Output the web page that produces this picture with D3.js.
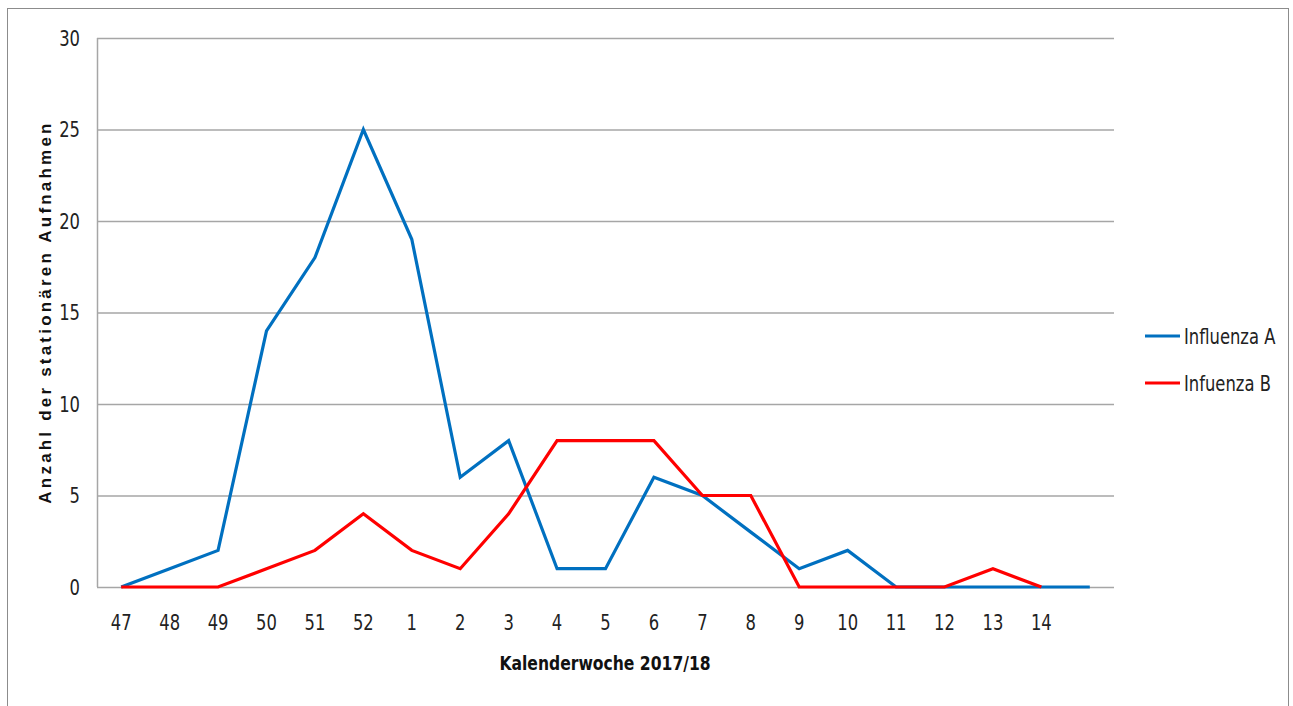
<!DOCTYPE html>
<html><head><meta charset="utf-8">
<script src="https://cdn.jsdelivr.net/npm/d3@7"></script>
<style>body{margin:0;background:#fff;} svg{display:block;} .cf{font-family:'DejaVu Sans',sans-serif;}</style>
</head><body>
<svg id="c" width="1293" height="706"></svg>
<script>
const weeks = ["47","48","49","50","51","52","1","2","3","4","5","6","7","8","9","10","11","12","13","14",""];
const influenzaA = [0,1,2,14,18,25,19,6,8,1,1,6,5,3,1,2,0,0,0,0,0];
const influenzaB = [0,0,0,1,2,4,2,1,4,8,8,8,5,5,0,0,0,0,1,0];
const yTicks = [0,5,10,15,20,25,30];
const seriesNames = ["Influenza A","Infuenza B"];
const colors = ["#0070C0","#FF0000"];

const svg = d3.select("#c");
const SX = 0.78;
function ctext(parent, px, py, str, size, anchor, weight){
  return parent.append("text").attr("class","cf")
    .attr("transform",`translate(${px},${py}) scale(${SX},1)`)
    .attr("text-anchor",anchor).style("font-size",size+"px")
    .style("font-weight",weight||"normal").attr("fill","#222").text(str);
}
svg.append("rect").attr("x",7.5).attr("y",8.5).attr("width",1281).attr("height",720)
  .attr("fill","none").attr("stroke","#8c8c8c").attr("stroke-width",1);

const L=97,R=1114,T=38,B=587;
const x = d3.scaleBand().domain(d3.range(weeks.length)).range([L,R]);
const y = d3.scaleLinear().domain([0,30]).range([B,T]);

const g = svg.append("g");
g.selectAll("line.grid").data(yTicks).enter().append("line")
  .attr("x1",L).attr("x2",R).attr("y1",d=>y(d)+0.5).attr("y2",d=>y(d)+0.5)
  .attr("stroke","#a6a6a6").attr("stroke-width",1.5);
g.append("line").attr("x1",L+0.5).attr("x2",L+0.5).attr("y1",T).attr("y2",B)
  .attr("stroke","#a6a6a6").attr("stroke-width",1.5);
yTicks.forEach(t=>ctext(g,80,y(t)+7.5,t,21,"end"));
weeks.forEach((w,i)=>ctext(g,x(i)+x.bandwidth()/2,630,w,21,"middle"));
ctext(svg,605,670,"Kalenderwoche 2017/18",20,"middle","bold").attr("fill","#111");
svg.append("text").attr("transform","translate(51,312) rotate(-90)").attr("text-anchor","middle")
  .style("font-family","'Liberation Sans',Arial,sans-serif").style("font-size","17px").style("font-weight","bold")
  .style("letter-spacing","3.2px").attr("fill","#111")
  .text("Anzahl der stationären Aufnahmen");

const line = d3.line().x((d,i)=>x(i)+x.bandwidth()/2).y(d=>y(d));
[influenzaA,influenzaB].forEach((s,k)=>{
  g.append("path").datum(s).attr("d",line).attr("fill","none")
   .attr("stroke",colors[k]).attr("stroke-width",3.2).attr("stroke-linejoin","miter");
});
seriesNames.forEach((n,k)=>{
  const ly = 336 + k*47;
  svg.append("line").attr("x1",1145).attr("x2",1180).attr("y1",ly).attr("y2",ly)
    .attr("stroke",colors[k]).attr("stroke-width",3.2);
  ctext(svg,1184,ly+7.5,n,21,"start");
});
</script>
</body></html>
